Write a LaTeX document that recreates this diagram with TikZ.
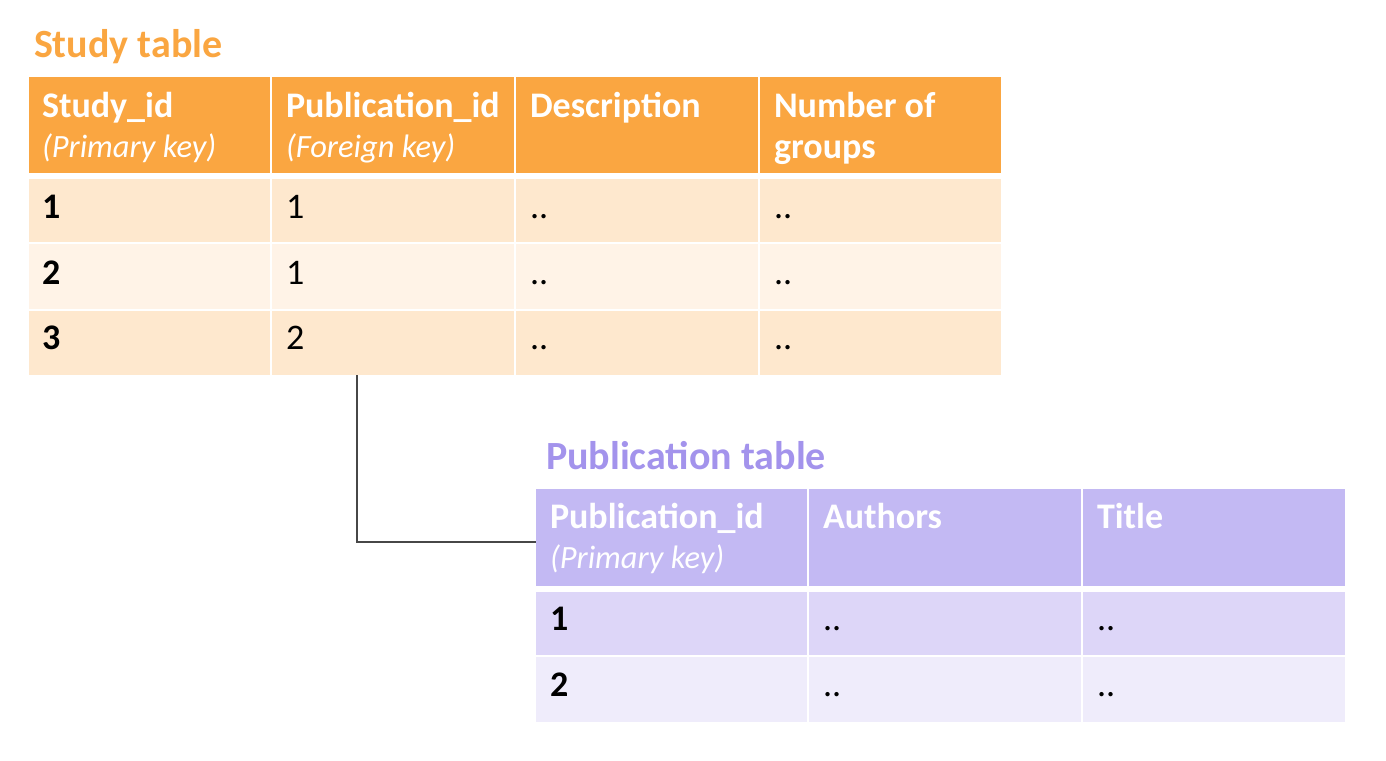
\documentclass[tikz,border=0pt]{standalone}
\usepackage{fontspec}
\setmainfont{Carlito}
\definecolor{sHead}{RGB}{250,166,65}
\definecolor{sRowA}{RGB}{254,232,206}
\definecolor{sRowB}{RGB}{255,243,231}
\definecolor{pHead}{RGB}{195,185,243}
\definecolor{pTitle}{RGB}{163,147,236}
\definecolor{pRowA}{RGB}{221,214,248}
\definecolor{pRowB}{RGB}{239,236,251}
\tikzset{
  x=1pt, y=-1pt,
  cell/.style={rectangle, draw=none, inner sep=0pt, outer sep=0pt, anchor=north west},
  txt/.style={inner sep=0pt, outer sep=0pt, anchor=base west, font=\fontsize{36}{40}\selectfont},
  htxt/.style={txt, text=white, font=\fontsize{36}{40}\selectfont\bfseries},
  ktxt/.style={txt, text=white, font=\fontsize{32.5}{40}\selectfont\itshape},
  btxt/.style={txt, text=black, font=\fontsize{36}{40}\selectfont\bfseries},
  rtxt/.style={txt, text=black},
  title/.style={inner sep=0pt, outer sep=0pt, anchor=base west, font=\fontsize{40}{44}\selectfont\bfseries},
  conn/.style={draw=black!72, line width=1.3pt}
}
\begin{document}
\begin{tikzpicture}
\useasboundingbox (0,0) rectangle (1386,760);
% ---------- Study table ----------
\node[title, text=sHead] (stitle) at (34,57) {Study table};
\foreach \cx/\w [count=\c] in {29/241,272/242,516/242,760/241}{
  \node[cell, fill=sHead, minimum width=\w, minimum height=96] (sh\c) at (\cx,77) {};
  \node[cell, fill=sRowA, minimum width=\w, minimum height=63] (sra\c) at (\cx,179) {};
  \node[cell, fill=sRowB, minimum width=\w, minimum height=65] (srb\c) at (\cx,244) {};
  \node[cell, fill=sRowA, minimum width=\w, minimum height=64] (src\c) at (\cx,311) {};
}
% header texts
\node[htxt] (sh1a) at (42,117) {Study\_id};
\node[ktxt] (sh1b) at (42,157) {(Primary key)};
\node[htxt] (sh2a) at (286,117) {Publication\_id};
\node[ktxt] (sh2b) at (286,157) {(Foreign key)};
\node[htxt] (sh3a) at (530,117) {Description};
\node[htxt] (sh4a) at (774,117) {Number of};
\node[htxt] (sh4b) at (774,158) {groups};
% rows
\node[btxt] (sra1t) at (42,218) {1};
\node[rtxt] (sra2t) at (286,218) {1};
\node[rtxt] (sra3t) at (530,218) {..};
\node[rtxt] (sra4t) at (774,218) {..};
\node[btxt] (srb1t) at (42,284) {2};
\node[rtxt] (srb2t) at (286,284) {1};
\node[rtxt] (srb3t) at (530,284) {..};
\node[rtxt] (srb4t) at (774,284) {..};
\node[btxt] (src1t) at (42,349) {3};
\node[rtxt] (src2t) at (286,349) {2};
\node[rtxt] (src3t) at (530,349) {..};
\node[rtxt] (src4t) at (774,349) {..};
% ---------- Publication table ----------
\node[title, text=pTitle] (ptitle) at (546,469) {Publication table};
\foreach \cx/\w [count=\c] in {536/271,809/272,1083/262}{
  \node[cell, fill=pHead, minimum width=\w, minimum height=97] (ph\c) at (\cx,489) {};
  \node[cell, fill=pRowA, minimum width=\w, minimum height=63] (pra\c) at (\cx,592) {};
  \node[cell, fill=pRowB, minimum width=\w, minimum height=65] (prb\c) at (\cx,657) {};
}
\node[htxt] (ph1a) at (550,528) {Publication\_id};
\node[ktxt] (ph1b) at (550,568) {(Primary key)};
\node[htxt] (ph2a) at (823,528) {Authors};
\node[htxt] (ph3a) at (1097,528) {Title};
\node[btxt] (pra1t) at (550,630) {1};
\node[rtxt] (pra2t) at (823,630) {..};
\node[rtxt] (pra3t) at (1097,630) {..};
\node[btxt] (prb1t) at (550,696) {2};
\node[rtxt] (prb2t) at (823,696) {..};
\node[rtxt] (prb3t) at (1097,696) {..};
% ---------- connector ----------
\coordinate (fk) at ([xshift=-36pt]src2.south);
\coordinate (pk) at ([yshift=-4.5pt]ph1.west);
\draw[conn] (fk) |- (pk);
\end{tikzpicture}
\end{document}
